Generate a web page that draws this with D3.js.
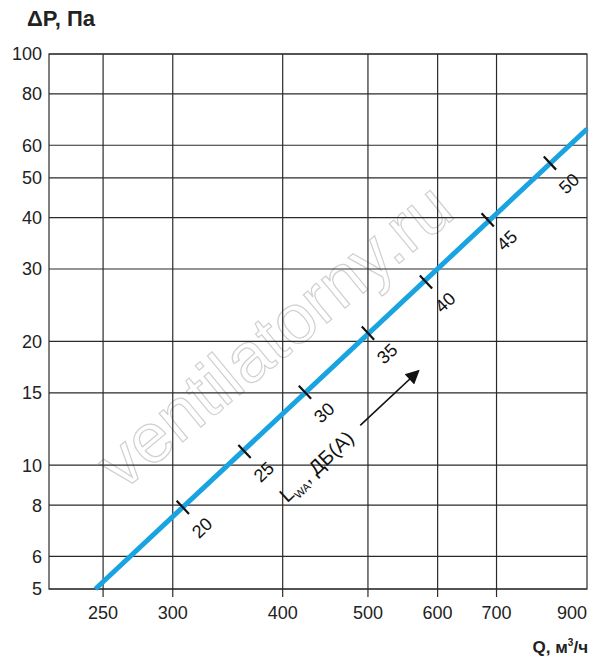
<!DOCTYPE html>
<html>
<head>
<meta charset="utf-8">
<script src="https://cdn.jsdelivr.net/npm/d3@7/dist/d3.min.js"></script>
<style>
  html, body { margin: 0; padding: 0; background: #fff; }
  svg { display: block; font-family: "Liberation Sans", Arial, sans-serif; }
</style>
</head>
<body>
<svg id="chart" width="600" height="661"></svg>
<script>
// ---- data ----
const qTicks = [250, 300, 400, 500, 600, 700, 900];
const dpTicks = [5, 6, 8, 10, 15, 20, 30, 40, 50, 60, 80, 100];
// curve end points (Q, m3/h ; dP, Pa)
const curveQ = [245, 887];
const curveDP = [5, 65.7];
// sound level marks along the curve
const lwaLevels = [20, 25, 30, 35, 40, 45, 50];
const lwaQ = [308, 362, 424, 500, 582, 684, 805];
const lwaDP = [7.9, 10.8, 15.05, 20.95, 27.9, 39.5, 54.3];

// ---- layout ----
const svg = d3.select("#chart");
const L = 49, R = 587, T = 54, B = 589;
const x = d3.scaleLog().domain([217, 887]).range([L, R]).clamp(true);
const y = d3.scaleLog().domain([5, 100]).range([B, T]);
const gridColor = "#2a2a2a";

// watermark
svg.append("text")
  .attr("transform", "translate(122,492) rotate(-39.5)")
  .attr("font-size", 70)
  .attr("fill", "none")
  .attr("stroke", "#d0d0d0")
  .attr("stroke-width", 1.2)
  .text("ventilatorny.ru");

// horizontal grid
svg.append("g").selectAll("line").data(dpTicks).join("line")
  .attr("x1", L).attr("x2", R)
  .attr("y1", d => y(d)).attr("y2", d => y(d))
  .attr("stroke", gridColor).attr("stroke-width", 1.2);

// vertical grid (with ticks below)
svg.append("g").selectAll("line").data(qTicks.filter(d => d < 900)).join("line")
  .attr("x1", d => x(d)).attr("x2", d => x(d))
  .attr("y1", T).attr("y2", B + 8)
  .attr("stroke", gridColor).attr("stroke-width", 1.2);

// frame
svg.append("rect").attr("x", L).attr("y", T).attr("width", R - L).attr("height", B - T)
  .attr("fill", "none").attr("stroke", gridColor).attr("stroke-width", 1.2);

// y tick labels
svg.append("g").selectAll("text").data(dpTicks).join("text")
  .attr("x", L - 7).attr("y", d => y(d))
  .attr("dy", "0.36em")
  .attr("text-anchor", "end")
  .attr("font-size", 18).attr("fill", "#222")
  .text(d => d);

// x tick labels
svg.append("g").selectAll("text").data(qTicks).join("text")
  .attr("x", d => x(d)).attr("y", 619)
  .attr("text-anchor", d => d === 900 ? "end" : "middle")
  .attr("font-size", 18).attr("fill", "#222")
  .text(d => d);

// axis titles
svg.append("text").attr("x", 27).attr("y", 26)
  .attr("font-size", 22).attr("font-weight", "bold").attr("fill", "#222")
  .text("ΔP, Па");
const qt = svg.append("text").attr("x", 588).attr("y", 653)
  .attr("text-anchor", "end")
  .attr("font-size", 17).attr("font-weight", "bold").attr("fill", "#222");
qt.append("tspan").text("Q, м");
qt.append("tspan").attr("font-size", 10).attr("dy", -7).text("3");
qt.append("tspan").attr("dy", 7).text("/ч");

// curve
const curve = curveQ.map((q, i) => [q, curveDP[i]]);
svg.append("path")
  .datum(curve)
  .attr("d", d3.line().x(d => x(d[0])).y(d => y(d[1])))
  .attr("fill", "none").attr("stroke", "#19a4e1").attr("stroke-width", 5);

// direction of curve
const p0 = [x(curveQ[0]), y(curveDP[0])], p1 = [x(curveQ[1]), y(curveDP[1])];
const len = Math.hypot(p1[0] - p0[0], p1[1] - p0[1]);
const dir = [(p1[0] - p0[0]) / len, (p1[1] - p0[1]) / len];
const nrm = [-dir[1], dir[0]]; // points down-right
const ang = Math.atan2(dir[1], dir[0]) * 180 / Math.PI;

// marks
const marks = lwaLevels.map((v, i) => ({ v, px: x(lwaQ[i]), py: y(lwaDP[i]) }));
svg.append("g").selectAll("line").data(marks).join("line")
  .attr("x1", d => d.px - 9 * nrm[0]).attr("y1", d => d.py - 9 * nrm[1])
  .attr("x2", d => d.px + 9 * nrm[0]).attr("y2", d => d.py + 9 * nrm[1])
  .attr("stroke", "#111").attr("stroke-width", 2.2);
svg.append("g").selectAll("text").data(marks).join("text")
  .attr("transform", d => `translate(${d.px + 28 * nrm[0]},${d.py + 28 * nrm[1]}) rotate(${ang})`)
  .attr("text-anchor", "middle").attr("dy", "0.35em")
  .attr("font-size", 18).attr("fill", "#111")
  .text(d => d.v);

// Lwa label and arrow
const mid = [(marks[1].px + marks[2].px) / 2, (marks[1].py + marks[2].py) / 2];
const lc = [mid[0] + 61 * nrm[0], mid[1] + 61 * nrm[1]];
const lt = svg.append("text")
  .attr("transform", `translate(${lc[0]},${lc[1]}) rotate(${ang})`)
  .attr("text-anchor", "middle").attr("dy", "0.35em")
  .attr("font-size", 20).attr("fill", "#111");
lt.append("tspan").text("L");
lt.append("tspan").attr("font-size", 11).attr("dy", 5).text("WA");
lt.append("tspan").attr("dy", -5).text(", ДБ(А)");

svg.append("defs").append("marker")
  .attr("id", "ah").attr("viewBox", "0 0 10 10").attr("refX", 9).attr("refY", 5)
  .attr("markerWidth", 17).attr("markerHeight", 14).attr("markerUnits", "userSpaceOnUse")
  .attr("orient", "auto")
  .append("path").attr("d", "M0,0 L10,5 L0,10 Z").attr("fill", "#111");
svg.append("line")
  .attr("x1", lc[0] + 60 * dir[0]).attr("y1", lc[1] + 60 * dir[1])
  .attr("x2", lc[0] + 140 * dir[0]).attr("y2", lc[1] + 140 * dir[1])
  .attr("stroke", "#111").attr("stroke-width", 1.6)
  .attr("marker-end", "url(#ah)");
</script>
</body>
</html>
